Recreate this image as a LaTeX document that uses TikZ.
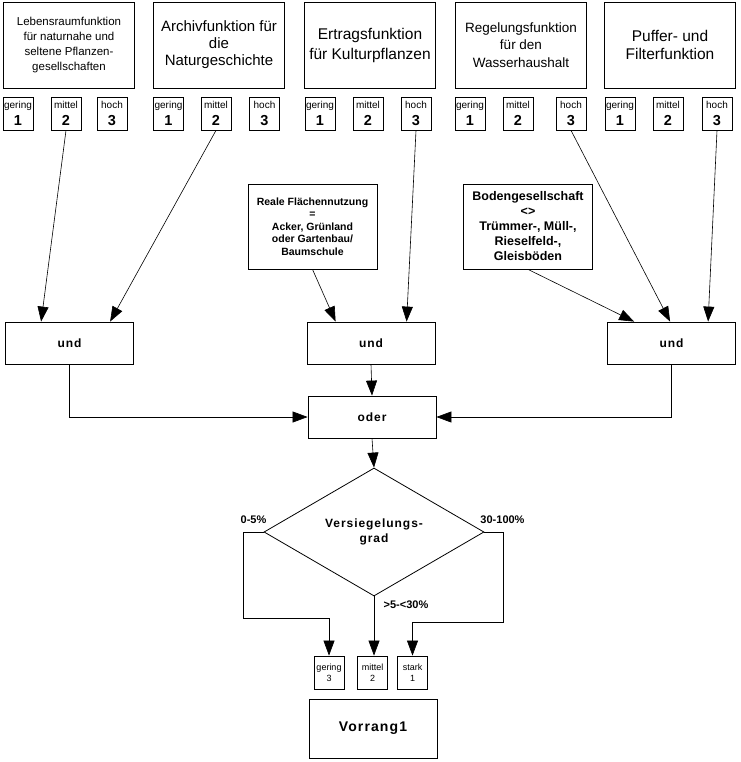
\documentclass[tikz,border=0pt]{standalone}
\usepackage{fontspec}
\setmainfont{Liberation Sans}
\newfontfamily\spacedfont[LetterSpace=8]{Liberation Sans}
\usetikzlibrary{arrows.meta, shapes.geometric, calc}
\newcommand{\rating}[2]{{\fontsize{10}{10}\selectfont #1}\\{\fontsize{14.5}{14.5}\selectfont\bfseries #2}}

\begin{document}
\begin{tikzpicture}[
  x=1pt, y=-1pt,
  func/.style={draw, minimum width=131pt, minimum height=86pt, inner sep=1pt, align=center},
  rate/.style={draw, minimum width=30pt, minimum height=33pt, inner sep=0pt, align=center, font=\fontsize{10}{17}\selectfont},
  cond/.style={draw, minimum width=129pt, minimum height=85pt, inner sep=1pt, align=center},
  logic/.style={draw, minimum width=128pt, minimum height=42pt, inner sep=0pt, font=\spacedfont\bfseries\fontsize{12}{14}\selectfont},
  result/.style={draw, minimum width=30pt, minimum height=33pt, inner sep=0pt, align=center, font=\fontsize{9}{11}\selectfont},
  lbl/.style={font=\bfseries\fontsize{11}{13}\selectfont, inner sep=0pt},
  arrow/.style={-{Triangle[length=15pt,width=11pt]}, line width=0.6pt},
  line width=0.8pt
]
\useasboundingbox (0,0) rectangle (740,762);

% Functions
\node[func, font=\fontsize{11.5}{15}\selectfont] (leben) at (69,45) {Lebensraumfunktion\\für naturnahe und\\seltene Pflanzen-\\gesellschaften};
\node[func, font=\fontsize{15}{17}\selectfont] (archiv) at (219,45) {Archivfunktion für\\die\\Naturgeschichte};
\node[func, font=\fontsize{15.5}{20}\selectfont] (ertrag) at (370,45) {Ertragsfunktion\\für Kulturpflanzen};
\node[func, font=\fontsize{13.5}{17.5}\selectfont] (regel) at (521,45) {Regelungsfunktion\\für den\\Wasserhaushalt};
\node[func, font=\fontsize{15.5}{18}\selectfont] (puffer) at (670,45) {Puffer- und\\Filterfunktion};

% Ratings
\node[rate] (lebenG) at (18,113.5) {\rating{gering}{1}};
\node[rate] (lebenM) at (66,113.5) {\rating{mittel}{2}};
\node[rate] (lebenH) at (112,113.5) {\rating{hoch}{3}};
\node[rate] (archivG) at (168.5,113.5) {\rating{gering}{1}};
\node[rate] (archivM) at (216,113.5) {\rating{mittel}{2}};
\node[rate] (archivH) at (264.5,113.5) {\rating{hoch}{3}};
\node[rate] (ertragG) at (320,113.5) {\rating{gering}{1}};
\node[rate] (ertragM) at (368,113.5) {\rating{mittel}{2}};
\node[rate] (ertragH) at (416,113.5) {\rating{hoch}{3}};
\node[rate] (regelG) at (470,113.5) {\rating{gering}{1}};
\node[rate] (regelM) at (518,113.5) {\rating{mittel}{2}};
\node[rate] (regelH) at (571,113.5) {\rating{hoch}{3}};
\node[rate] (pufferG) at (620,113.5) {\rating{gering}{1}};
\node[rate] (pufferM) at (668,113.5) {\rating{mittel}{2}};
\node[rate] (pufferH) at (717,113.5) {\rating{hoch}{3}};

% Conditions
\node[cond, font=\bfseries\fontsize{10.5}{12.5}\selectfont] (nutzung) at (312.5,226.5) {Reale Flächennutzung\\=\\Acker, Grünland\\oder Gartenbau/\\Baumschule};
\node[cond, font=\bfseries\fontsize{12.5}{15}\selectfont] (boden) at (528,226.5) {Bodengesellschaft\\<>\\Trümmer-, Müll-,\\Rieselfeld-,\\Gleisböden};

% Logic
\node[logic] (und1) at (69.5,343) {und};
\node[logic] (und2) at (371,343) {und};
\node[logic] (und3) at (671.5,343) {und};
\node[logic] (oder) at (372,417) {oder};

\draw[arrow] (lebenM.south) -- ($(und1.north west)+(36,0)$);
\draw[arrow] (archivM.south) -- ($(und1.north west)+(105,0)$);
\draw[arrow] (nutzung.south) -- ($(und2.north west)+(29,0)$);
\draw[arrow] (ertragH.south) -- ($(und2.north west)+(100,0)$);
\draw[arrow] (boden.south) -- ($(und3.north west)+(27,0)$);
\draw[arrow] (regelH.south) -- ($(und3.north west)+(63,0)$);
\draw[arrow] (pufferH.south) -- ($(und3.north west)+(101,0)$);

\draw[arrow] (und1.south) |- (oder.west);
\draw[arrow] (und2.south) -- (oder.north);
\draw[arrow] (und3.south) |- (oder.east);

% Sealing degree
\node[draw, diamond, minimum width=220pt, minimum height=128pt, inner sep=0pt, align=center,
  font=\spacedfont\bfseries\fontsize{12}{15}\selectfont] (grad) at (374,532) {Versiegelungs-\\grad};
\draw[arrow] (oder.south) -- (grad.north);

\node[lbl] (low) at (253.5,520) {0-5\%};
\node[lbl] (high) at (502.5,520) {30-100\%};
\node[lbl] (mid) at (406,605) {>5-<30\%};

\node[result] (rGer) at (329,672.5) {gering\\3};
\node[result] (rMit) at (372.5,672.5) {mittel\\2};
\node[result] (rSta) at (412.5,672.5) {stark\\1};

\coordinate (lbend) at (243,618);
\coordinate (rbend) at (503,622);
\draw[arrow] (grad.west) -| (lbend) -| (rGer.north);
\draw[arrow] (grad.south) -- (grad.south |- rMit.north);
\draw[arrow] (grad.east) -| (rbend) -| (rSta.north);

\node[draw, minimum width=128pt, minimum height=59pt, font=\spacedfont\bfseries\fontsize{14}{16}\selectfont] (vorrang) at (373,728.5) {Vorrang1};
\end{tikzpicture}
\end{document}
